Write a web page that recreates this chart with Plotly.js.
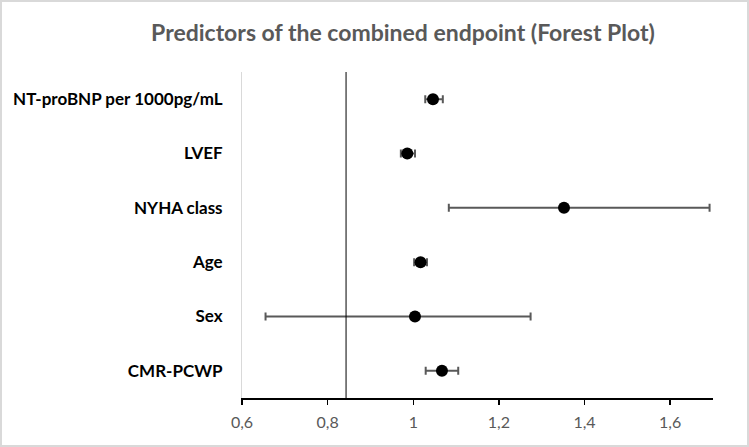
<!DOCTYPE html>
<html>
<head>
<meta charset="utf-8">
<script src="https://cdn.plot.ly/plotly-3.0.1.min.js"></script>
<style>
  html, body { margin: 0; padding: 0; background: #fff; }
  #wrap { position: relative; width: 749px; height: 447px; }
  #chart { width: 749px; height: 447px; }
  #frame { position: absolute; left: 0; top: 0; width: 749px; height: 447px;
           box-sizing: border-box; border: 2px solid #d9d9d9; pointer-events: none; }
</style>
</head>
<body>
<div id="wrap">
  <div id="chart"></div>
  <div id="frame"></div>
</div>
<script>
// Predictors (top to bottom) with odds ratio and 95% confidence limits
const predictors = ["NT-proBNP per 1000pg/mL", "LVEF", "NYHA class", "Age", "Sex", "CMR-PCWP"];
const oddsRatio  = [1.046, 0.986, 1.352, 1.017, 1.004, 1.067];
const ciLower    = [1.028, 0.971, 1.083, 1.002, 0.655, 1.029];
const ciUpper    = [1.069, 1.004, 1.692, 1.032, 1.274, 1.105];

// x-axis ticks shown with a decimal comma
const xTickVals  = [0.6, 0.8, 1.0, 1.2, 1.4, 1.6];
const xTickText  = ["0,6", "0,8", "1", "1,2", "1,4", "1,6"];

// vertical reference line position
const referenceX = 0.843;

const errPlus  = ciUpper.map((u, i) => u - oddsRatio[i]);
const errMinus = oddsRatio.map((o, i) => o - ciLower[i]);

const FONT = "Lato, 'Open Sans', sans-serif";

const trace = {
  type: "scatter",
  mode: "markers",
  x: oddsRatio,
  y: predictors,
  marker: { size: 12, color: "#000000" },
  error_x: {
    type: "data",
    symmetric: false,
    array: errPlus,
    arrayminus: errMinus,
    color: "#595959",
    thickness: 2,
    width: 4
  },
  hoverinfo: "x+y",
  showlegend: false
};

const layout = {
  width: 749,
  height: 447,
  paper_bgcolor: "#ffffff",
  plot_bgcolor: "#ffffff",
  margin: { l: 242, r: 36, t: 72, b: 49 },
  font: { family: FONT, color: "#595959" },
  title: {
    text: "Predictors of the combined endpoint (Forest Plot)",
    font: { family: FONT, size: 23, color: "#595959", weight: "bold" },
    xref: "container", x: 403 / 749, xanchor: "center",
    yref: "container", y: 1 - 33 / 447, yanchor: "middle"
  },
  xaxis: {
    range: [0.6, 1.7],
    tickvals: xTickVals,
    ticktext: xTickText,
    ticks: "outside",
    ticklen: 5,
    tickwidth: 1.5,
    tickcolor: "#000000",
    ticklabelstandoff: 4,
    showline: true,
    linecolor: "#000000",
    linewidth: 1.5,
    showgrid: false,
    zeroline: false,
    tickfont: { family: FONT, size: 16, color: "#595959" }
  },
  yaxis: {
    type: "category",
    categoryorder: "array",
    categoryarray: predictors,
    range: [5.5, -0.5],
    showline: true,
    linecolor: "#d9d9d9",
    linewidth: 1,
    showgrid: false,
    zeroline: false,
    ticks: "",
    ticklabelstandoff: 15,
    tickfont: { family: FONT, size: 17, color: "#000000", weight: "bold" }
  },
  shapes: [{
    type: "line",
    xref: "x", yref: "paper",
    x0: referenceX, x1: referenceX, y0: 0, y1: 1,
    line: { color: "#000000", width: 1 }
  }]
};

Plotly.newPlot("chart", [trace], layout, { displayModeBar: false, staticPlot: true });
</script>
</body>
</html>
